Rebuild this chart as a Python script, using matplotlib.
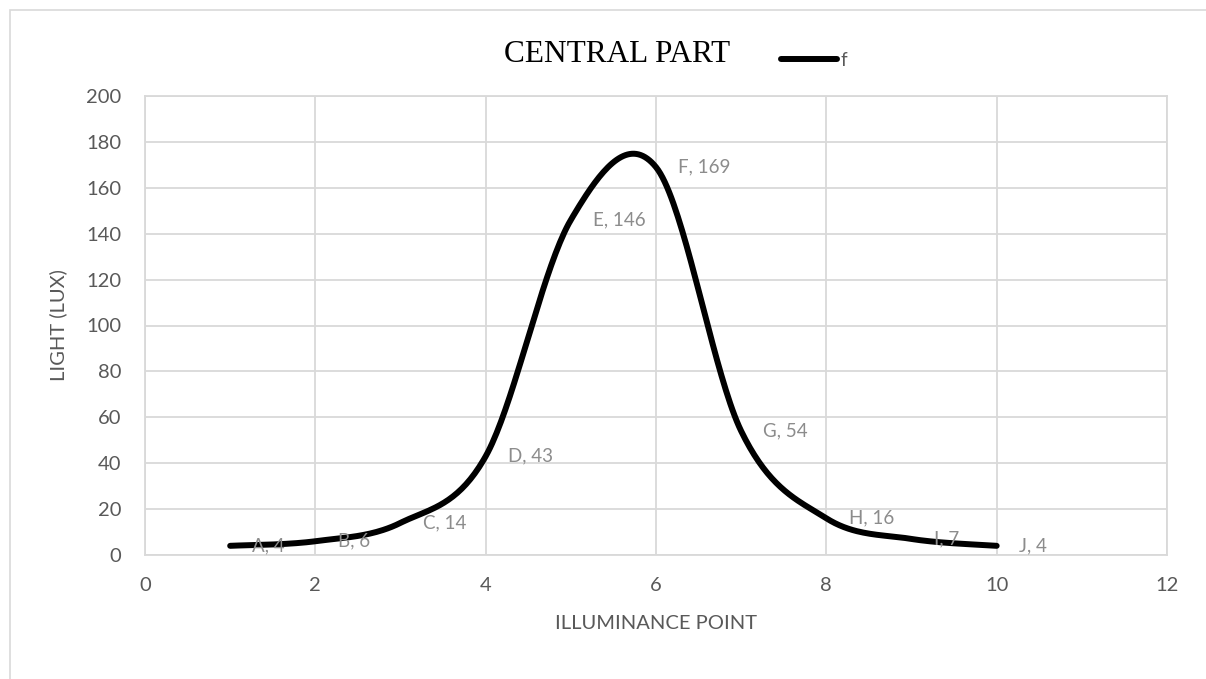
import matplotlib
matplotlib.use("Agg")
import matplotlib.pyplot as plt
from matplotlib.patches import Rectangle
import numpy as np

# values
point_names = ["A", "B", "C", "D", "E", "F", "G", "H", "I", "J"]
x_points = [1, 2, 3, 4, 5, 6, 7, 8, 9, 10]
light_lux = [4, 6, 14, 43, 146, 169, 54, 16, 7, 4]

GRID = "#d9d9d9"
TEXT = "#595959"
LABEL = "#8c8c8c"
plt.rcParams["font.family"] = ["Lato", "DejaVu Sans"]


def smooth_curve(x, y, steps=40):
    # Excel-style smoothed line: cubic Bezier segments, Catmull-Rom tangents
    p = np.column_stack([x, y]).astype(float)
    p = np.vstack([p[0], p, p[-1]])
    out = []
    for i in range(1, len(p) - 2):
        p0, p1, p2, p3 = p[i - 1], p[i], p[i + 1], p[i + 2]
        c1 = p1 + (p2 - p0) / 6
        c2 = p2 - (p3 - p1) / 6
        t = np.linspace(0, 1, steps)[:, None]
        seg = ((1 - t) ** 3 * p1 + 3 * (1 - t) ** 2 * t * c1
               + 3 * (1 - t) * t ** 2 * c2 + t ** 3 * p2)
        out.append(seg if i == 1 else seg[1:])
    out = np.vstack(out)
    return out[:, 0], out[:, 1]


fig = plt.figure(figsize=(12.06, 6.79), dpi=100)
ax = fig.add_axes([145 / 1206, 1 - 555 / 679, (1167 - 145) / 1206, (555 - 96) / 679])

# outer chart border (only top/left edges visible in the picture)
fig.patches.append(Rectangle((10 / 1206, -0.2), 1.5, 1.2 - 10 / 679,
                             transform=fig.transFigure, fill=False,
                             edgecolor=GRID, linewidth=1.2, clip_on=False))

sx, sy = smooth_curve(x_points, light_lux)
ax.plot(sx, sy, color="black", linewidth=4.3, solid_capstyle="round",
        label="f", zorder=3)

for name, xv, yv in zip(point_names, x_points, light_lux):
    ax.annotate(f"{name}, {yv}", (xv, yv), xytext=(16, 0),
                textcoords="offset points", va="center", ha="left",
                color=LABEL, fontsize=13.5, zorder=4)

ax.set_xlim(0, 12)
ax.set_ylim(0, 200)
ax.set_xticks(range(0, 13, 2))
ax.set_yticks(range(0, 201, 20))
ax.grid(True, color=GRID, linewidth=1.3)
ax.set_axisbelow(True)
for s in ax.spines.values():
    s.set_color(GRID)
    s.set_linewidth(1.3)
ax.tick_params(axis="both", length=0, labelsize=14.5, labelcolor=TEXT)
ax.tick_params(axis="x", pad=16)
ax.tick_params(axis="y", pad=17)

ax.set_xlabel("ILLUMINANCE POINT", fontsize=14.5, color=TEXT, labelpad=15)
ax.set_ylabel("LIGHT (LUX)", fontsize=14.5, color=TEXT, labelpad=14)

fig.text(617 / 1206, 1 - 54 / 679, "CENTRAL PART", family="Liberation Serif",
         fontsize=22.5, ha="center", va="center", color="black")
fig.legend(loc="center left", bbox_to_anchor=(781 / 1206, 1 - 60 / 679),
           frameon=False, borderpad=0, borderaxespad=0, handlelength=3.0,
           handletextpad=0.15, fontsize=13.5, labelcolor=TEXT)

fig.savefig("out.png", dpi=100)
